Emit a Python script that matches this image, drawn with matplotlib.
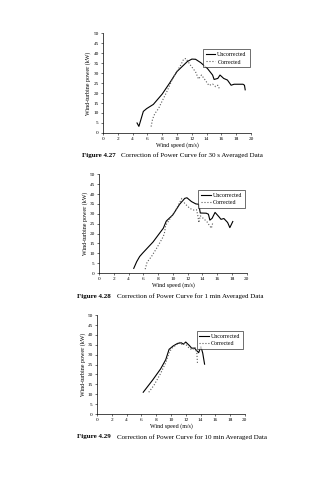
import numpy as np
import matplotlib.pyplot as plt

# Power curve readings, 30 s averages
ws_30s_unc = [4.6, 4.85, 5.45, 5.9, 6.8, 8.0, 9.0, 10.0, 11.4, 12.0, 12.5, 13.2, 14.1, 14.8,
              15.0, 15.5, 15.8, 16.3, 16.8, 17.3, 17.7, 18.9, 19.1, 19.2]
pw_30s_unc = [5.0, 3.3, 10.8, 12.2, 14.3, 19.5, 25.0, 30.8, 35.8, 37.0, 36.9, 35.2, 32.3, 29.0,
              26.8, 27.3, 29.0, 27.3, 26.5, 23.9, 24.4, 24.4, 23.9, 21.6]
ws_30s_cor = [6.5, 6.7, 7.0, 7.5, 7.7, 8.6, 9.5, 10.5, 10.9, 11.2, 11.8, 12.5, 12.9, 13.3,
              13.8, 14.3, 14.8, 15.2, 15.5, 15.7]
pw_30s_cor = [3.2, 7.0, 9.7, 12.2, 13.8, 20.5, 28.0, 34.0, 37.0, 37.3, 34.0, 30.6, 27.0, 29.0,
              26.5, 23.8, 24.5, 23.2, 23.9, 22.3]

# 1 min averages
ws_1m_unc = [4.7, 5.1, 5.5, 5.9, 6.4, 7.3, 8.7, 9.1, 10.0, 10.9, 11.6, 11.9, 12.5, 13.1, 13.5,
             13.7, 14.5, 14.8, 15.0, 15.3, 15.7, 16.2, 16.5, 16.9, 17.4, 17.7, 18.1]
pw_1m_unc = [2.4, 5.8, 8.4, 10.1, 12.1, 15.7, 22.7, 26.3, 29.5, 34.8, 37.8, 38.1, 36.2, 35.0, 34.8,
             30.4, 30.3, 29.8, 26.8, 27.7, 30.7, 28.6, 27.2, 27.6, 25.6, 23.0, 26.1]
ws_1m_cor = [6.25, 6.5, 7.1, 7.8, 8.7, 8.9, 9.0, 9.5, 10.4, 11.2, 11.6, 12.3, 12.8, 13.2,
             13.4, 13.5, 13.7, 14.1, 14.6, 14.9, 15.2, 15.4]
pw_1m_cor = [2.0, 5.5, 8.4, 12.6, 18.5, 21.0, 24.0, 26.9, 32.0, 37.8, 35.2, 32.7, 31.9, 32.0,
             28.5, 25.5, 29.0, 27.7, 26.0, 24.3, 22.7, 25.6]

# 10 min averages
ws_10m_unc = [6.25, 7.55, 8.6, 9.3, 9.75, 10.3, 10.9, 11.4, 11.7, 12.0, 12.5, 12.8, 13.2,
              13.4, 13.75, 14.05, 14.3, 14.55]
pw_10m_unc = [11.0, 17.3, 22.8, 27.5, 32.7, 34.4, 35.7, 36.0, 35.3, 36.4, 34.6, 33.3, 33.3,
              32.4, 31.0, 34.1, 30.8, 25.2]
ws_10m_cor = [7.0, 7.7, 8.6, 9.3, 9.8, 10.2, 10.8, 11.2, 11.5, 11.9, 12.4, 12.85, 13.25,
              13.5, 13.6]
pw_10m_cor = [11.0, 14.5, 20.5, 26.0, 31.5, 33.5, 35.2, 36.2, 35.2, 35.7, 33.6, 32.4, 33.7,
              31.0, 25.1]

panels = [
    ((ws_30s_unc, pw_30s_unc), (ws_30s_cor, pw_30s_cor),
     'Figure 4.27', 'Correction of Power Curve for 30 s Averaged Data'),
    ((ws_1m_unc, pw_1m_unc), (ws_1m_cor, pw_1m_cor),
     'Figure 4.28', 'Correction of Power Curve for 1 min Averaged Data'),
    ((ws_10m_unc, pw_10m_unc), (ws_10m_cor, pw_10m_cor),
     'Figure 4.29', 'Correction of Power Curve for 10 min Averaged Data'),
]

plt.rcParams['font.family'] = ['Liberation Serif', 'DejaVu Serif']

fig = plt.figure(figsize=(3.3, 4.8), dpi=100)
renderer = fig.canvas.get_renderer()

ax_boxes = [(0.312, 0.723, 0.449, 0.208),
            (0.300, 0.431, 0.448, 0.206),
            (0.294, 0.1375, 0.448, 0.206)]
cap_pos = [(0.248, 0.677), (0.233, 0.383), (0.233, 0.090)]

for (unc, cor, fig_no, cap), box, (xb, yc) in zip(panels, ax_boxes, cap_pos):
    ax = fig.add_axes(box)
    ax.plot(unc[0], unc[1], color='black', lw=0.8, label='Uncorrected')
    ax.plot(cor[0], cor[1], color='0.35', lw=0.8, ls=':', label='Corrected')
    ax.set_xlim(0, 20)
    ax.set_ylim(0, 50)
    ax.set_xticks(np.arange(0, 21, 2))
    ax.set_yticks(np.arange(0, 51, 5))
    ax.spines['top'].set_visible(False)
    ax.spines['right'].set_visible(False)
    for s in ['left', 'bottom']:
        ax.spines[s].set_linewidth(0.5)
    ax.tick_params(labelsize=3.8, width=0.4, length=1.5, pad=1.5)
    ax.set_xlabel('Wind speed (m/s)', fontsize=4.3, labelpad=1)
    ax.set_ylabel('Wind-turbine power (kW)', fontsize=4.3, labelpad=1.5)
    leg = ax.legend(loc='upper right', bbox_to_anchor=(0.99, 0.84), fontsize=4.2,
                    frameon=True, fancybox=False, handlelength=1.6, handletextpad=0.4,
                    borderpad=0.5, labelspacing=0.4, borderaxespad=0)
    leg.get_frame().set_edgecolor('black')
    leg.get_frame().set_linewidth(0.5)
    t = fig.text(xb, yc, fig_no, fontsize=5.0, fontweight='bold', va='center')
    # put the caption text right after the bold figure number
    bb = t.get_window_extent(renderer)
    fig.text((bb.x1 + 6) / fig.bbox.width, yc, cap, fontsize=5.0, va='center')

fig.savefig('out.png', dpi=100)
